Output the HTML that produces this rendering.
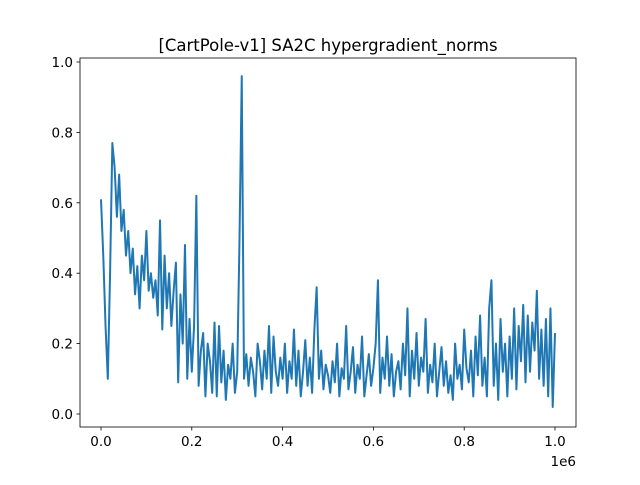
<!DOCTYPE html>
<html><head><meta charset="utf-8"><style>
body{margin:0;background:#fff;}
svg text{font-family:"DejaVu Sans","Liberation Sans",sans-serif;}
</style></head><body>
<svg id="chart" width="640" height="480" xmlns="http://www.w3.org/2000/svg">
<rect width="640" height="480" fill="#fff"/>
<text x="328" y="51" text-anchor="middle" font-size="16.5">[CartPole-v1] SA2C hypergradient_norms</text>
<g id="ticks"></g>
<path id="line" fill="none" stroke="#1f77b4" stroke-width="2" stroke-linejoin="round"/>
<rect x="80" y="58" width="496" height="369" fill="none" stroke="#000" stroke-width="0.8"/>
<text x="576" y="466" text-anchor="end" font-size="13.5">1e6</text>
</svg>
<script>
const xStep = 5000;
const values = [0.61,0.45,0.25,0.10,0.40,0.77,0.70,0.56,0.68,0.52,0.58,
0.45,0.52,0.40,0.47,0.34,0.42,0.30,0.45,0.38,0.52,
0.35,0.40,0.33,0.38,0.28,0.55,0.24,0.45,0.30,0.40,
0.25,0.35,0.43,0.09,0.34,0.20,0.48,0.10,0.27,0.12,
0.25,0.62,0.08,0.18,0.23,0.05,0.20,0.15,0.06,0.26,
0.05,0.25,0.09,0.18,0.04,0.14,0.10,0.20,0.06,0.12,
0.49,0.96,0.10,0.17,0.08,0.16,0.12,0.05,0.20,0.15,
0.07,0.18,0.10,0.25,0.06,0.22,0.12,0.08,0.16,0.10,
0.20,0.06,0.15,0.10,0.24,0.08,0.18,0.05,0.12,0.21,
0.08,0.16,0.06,0.24,0.36,0.10,0.18,0.07,0.14,0.11,
0.06,0.15,0.09,0.20,0.05,0.13,0.10,0.25,0.07,0.12,
0.19,0.06,0.14,0.10,0.22,0.05,0.11,0.17,0.08,0.13,
0.20,0.38,0.06,0.16,0.10,0.22,0.08,0.17,0.05,0.12,
0.15,0.07,0.20,0.11,0.30,0.05,0.18,0.10,0.23,0.08,
0.16,0.12,0.27,0.06,0.14,0.09,0.20,0.05,0.12,0.19,
0.08,0.15,0.06,0.11,0.04,0.20,0.10,0.14,0.07,0.24,
0.13,0.09,0.18,0.05,0.22,0.11,0.28,0.08,0.16,0.05,
0.30,0.38,0.08,0.20,0.04,0.27,0.12,0.20,0.05,0.22,
0.10,0.30,0.07,0.25,0.15,0.31,0.09,0.28,0.12,0.26,
0.18,0.35,0.10,0.24,0.08,0.27,0.05,0.30,0.02,0.23];
const xTicks = [0,0.2,0.4,0.6,0.8,1.0];
const xTickLabels = ["0.0","0.2","0.4","0.6","0.8","1.0"];
const yTicks = [0,0.2,0.4,0.6,0.8,1.0];
const yTickLabels = ["0.0","0.2","0.4","0.6","0.8","1.0"];

const xs = v => 101 + v/1e6*454;
const ys = v => 414 - v*352;
const NS = "http://www.w3.org/2000/svg";
const g = document.getElementById('ticks');
function mk(tag, attrs){const e=document.createElementNS(NS,tag);for(const k in attrs)e.setAttribute(k,attrs[k]);g.appendChild(e);return e;}
xTicks.forEach((t,i)=>{
  const x = xs(t*1e6);
  const l = mk('line',{x1:x,x2:x,y1:427,y2:430.5,stroke:'#000','stroke-width':0.8});
  
  
  const tx = mk('text',{x:x,y:446,'text-anchor':'middle','font-size':13.5});
  tx.textContent = xTickLabels[i];
  
  
});
yTicks.forEach((t,i)=>{
  const y = ys(t);
  const l = mk('line',{x1:76.5,x2:80,y1:y,y2:y,stroke:'#000','stroke-width':0.8});
  
  
  const tx = mk('text',{x:73,y:y+5,'text-anchor':'end','font-size':13.5});
  tx.textContent = yTickLabels[i];
  
  
});
document.getElementById('line').setAttribute('d', values.map((v,i)=>(i?'L':'M')+xs(i*xStep).toFixed(2)+','+ys(v).toFixed(2)).join(''));
</script>
</body></html>
